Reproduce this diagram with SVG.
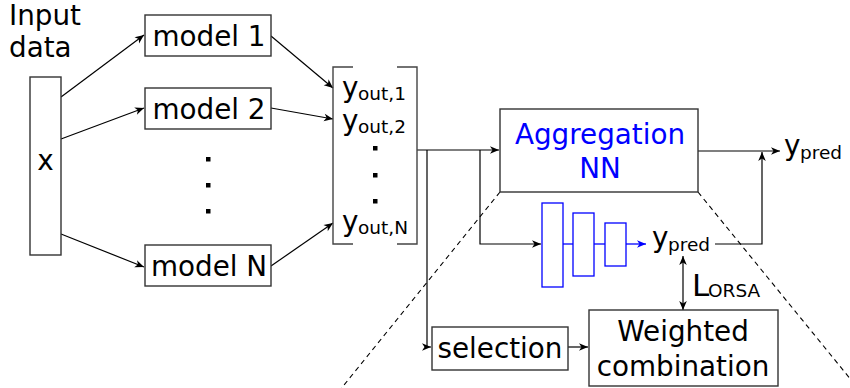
<svg xmlns="http://www.w3.org/2000/svg" width="850" height="388" viewBox="0 0 850 388">
  <defs>
    <style>
      text { font-family: "DejaVu Sans", "Liberation Sans", sans-serif; fill: #000; }
      .lbl { font-size: 27.8px; }
      .sub { font-size: 18.5px; }
      .blue { fill: #0000ff; }
      .box { fill: #fff; stroke: #333; stroke-width: 1.4; }
      .nn { fill: none; stroke: #0000ff; stroke-width: 1.3; }
      .wire { fill: none; stroke: #000; stroke-width: 1.2; }
      .bwire { fill: none; stroke: #0000ff; stroke-width: 1.3; }
      .dash { fill: none; stroke: #000; stroke-width: 1.1; stroke-dasharray: 5 4; }
      .brk { fill: none; stroke: #444; stroke-width: 1.4; }
      .dot { fill: #000; }
    </style>
    <marker id="arr" markerUnits="userSpaceOnUse" markerWidth="12" markerHeight="10" viewBox="-10 -5 12 10" refX="0" refY="0" orient="auto">
      <path d="M0,0 L-9,-3.8 L-6.5,0 L-9,3.8 Z" fill="#000"/>
    </marker>
    <marker id="arrS" markerUnits="userSpaceOnUse" markerWidth="12" markerHeight="10" viewBox="-10 -5 12 10" refX="0" refY="0" orient="auto-start-reverse">
      <path d="M0,0 L-9,-3.8 L-6.5,0 L-9,3.8 Z" fill="#000"/>
    </marker>
    <marker id="arrB" markerUnits="userSpaceOnUse" markerWidth="12" markerHeight="10" viewBox="-10 -5 12 10" refX="0" refY="0" orient="auto">
      <path d="M0,0 L-9,-3.8 L-6.5,0 L-9,3.8 Z" fill="#0000ff"/>
    </marker>
  </defs>

  <rect width="850" height="388" fill="#fff"/>

  <!-- zoom-out guide lines under the aggregation network -->
  <g id="guides">
    <line class="dash" x1="500" y1="192" x2="340" y2="390"/>
    <line class="dash" x1="698" y1="192" x2="852" y2="381"/>
  </g>

  <g id="connectors">
    <line class="wire" x1="61" y1="97" x2="144" y2="35" marker-end="url(#arr)"/>
    <line class="wire" x1="61" y1="139" x2="144" y2="108" marker-end="url(#arr)"/>
    <line class="wire" x1="61" y1="234" x2="144" y2="267" marker-end="url(#arr)"/>
    <line class="wire" x1="271" y1="36" x2="333" y2="88" marker-end="url(#arr)"/>
    <line class="wire" x1="271" y1="108" x2="333" y2="119" marker-end="url(#arr)"/>
    <line class="wire" x1="271" y1="266" x2="333" y2="223" marker-end="url(#arr)"/>
    <line class="wire" x1="417" y1="150" x2="499" y2="150" marker-end="url(#arr)"/>
    <path class="wire" d="M427,150 V347 H431" marker-end="url(#arr)"/>
    <path class="wire" d="M480,150 V244 H541" marker-end="url(#arr)"/>
    <line class="wire" x1="568" y1="347" x2="588" y2="347" marker-end="url(#arr)"/>
    <line class="wire" x1="698" y1="151" x2="780" y2="151" marker-end="url(#arr)"/>
    <path class="wire" d="M715,244 H762 V152" marker-end="url(#arr)"/>
    <line class="wire" x1="683" y1="256" x2="683" y2="310" marker-start="url(#arrS)" marker-end="url(#arr)"/>
  </g>

  <g id="input">
    <text class="lbl" x="9" y="25">Input</text>
    <text class="lbl" x="9" y="57">data</text>
    <rect class="box" x="30" y="77" width="31" height="178"/>
    <text class="lbl" x="45.5" y="170" text-anchor="middle">x</text>
  </g>

  <g id="model1">
    <rect class="box" x="145" y="15" width="126" height="41"/>
    <text class="lbl" x="209" y="45.5" text-anchor="middle">model 1</text>
  </g>
  <g id="model2">
    <rect class="box" x="145" y="88" width="126" height="41"/>
    <text class="lbl" x="209" y="118.5" text-anchor="middle">model 2</text>
  </g>
  <g id="model-dots">
    <rect class="dot" x="206" y="157" width="4.5" height="4.5"/>
    <rect class="dot" x="206" y="183" width="4.5" height="4.5"/>
    <rect class="dot" x="206" y="209" width="4.5" height="4.5"/>
  </g>
  <g id="modelN">
    <rect class="box" x="145" y="245" width="126" height="41"/>
    <text class="lbl" x="209" y="275.5" text-anchor="middle">model N</text>
  </g>

  <g id="outputs">
    <path class="brk" d="M353,67 H333 V244 H353"/>
    <path class="brk" d="M397,67 H417 V244 H397"/>
    <text class="lbl" x="342" y="97">y</text>
    <text class="sub" x="358" y="100">out,1</text>
    <text class="lbl" x="342" y="130">y</text>
    <text class="sub" x="358" y="133">out,2</text>
    <rect class="dot" x="373" y="146" width="4.5" height="4.5"/>
    <rect class="dot" x="373" y="173" width="4.5" height="4.5"/>
    <rect class="dot" x="373" y="199" width="4.5" height="4.5"/>
    <text class="lbl" x="342" y="231">y</text>
    <text class="sub" x="358" y="234">out,N</text>
  </g>

  <g id="aggregation">
    <rect class="box" x="500" y="109" width="198" height="83"/>
    <text class="lbl blue" x="600" y="144" text-anchor="middle">Aggregation</text>
    <text class="lbl blue" x="600" y="178" text-anchor="middle">NN</text>
  </g>

  <g id="network">
    <rect class="nn" x="542" y="203" width="21" height="84"/>
    <rect class="nn" x="573" y="213" width="21" height="63"/>
    <rect class="nn" x="605" y="223" width="21" height="43"/>
    <line class="bwire" x1="563" y1="244" x2="573" y2="244"/>
    <line class="bwire" x1="594" y1="244" x2="605" y2="244"/>
    <line class="bwire" x1="626" y1="244" x2="646" y2="244" marker-end="url(#arrB)"/>
  </g>

  <g id="ypred-inner">
    <text class="lbl" x="652" y="247">y</text>
    <text class="sub" x="668" y="251">pred</text>
  </g>

  <g id="loss">
    <text class="lbl" x="692" y="296" style="font-size:31px">L</text>
    <text class="sub" x="708" y="297">ORSA</text>
  </g>

  <g id="ypred-out">
    <text class="lbl" x="784" y="155">y</text>
    <text class="sub" x="800" y="159">pred</text>
  </g>

  <g id="selection">
    <rect class="box" x="432" y="327" width="136" height="43"/>
    <text class="lbl" x="500" y="358" text-anchor="middle">selection</text>
  </g>

  <g id="weighted">
    <rect class="box" x="589" y="310" width="189" height="76"/>
    <text class="lbl" x="683" y="341" text-anchor="middle">Weighted</text>
    <text class="lbl" x="683" y="376" text-anchor="middle">combination</text>
  </g>
</svg>
